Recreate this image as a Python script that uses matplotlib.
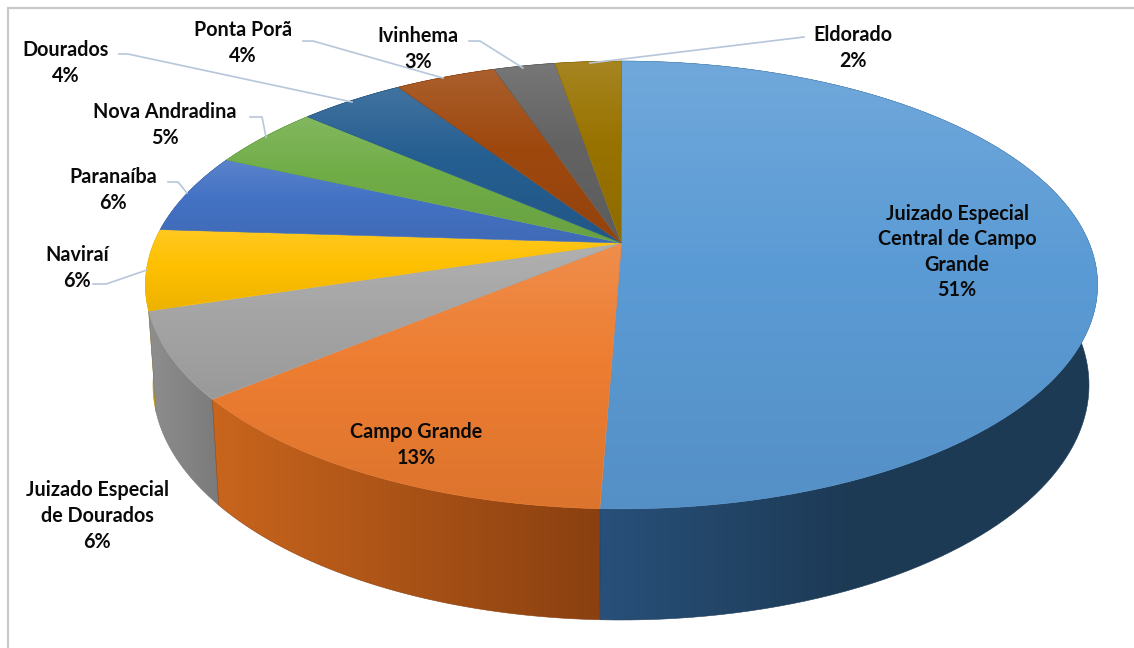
import numpy as np
import matplotlib
matplotlib.use('Agg')
from matplotlib import pyplot as plt
from matplotlib.colors import LinearSegmentedColormap, to_rgb
from matplotlib.patches import Polygon

plt.rcParams['font.family'] = ['Lato', 'DejaVu Sans']

# slices, clockwise from 12 o'clock
names = ['Juizado Especial\nCentral de Campo\nGrande', 'Campo Grande', 'Juizado Especial\nde Dourados',
         'Naviraí', 'Paranaíba', 'Nova Andradina', 'Dourados', 'Ponta Porã', 'Ivinhema', 'Eldorado']
values = [50.6, 13.4, 6.2, 5.8, 5.8, 4.6, 4.3, 4.1, 2.5, 2.7]
pct_labels = ['51%', '13%', '6%', '6%', '6%', '5%', '4%', '4%', '3%', '2%']

colors = ['#5B9BD5', '#ED7D31', '#A5A5A5', '#FFC000', '#4472C4', '#70AD47', '#255E91', '#9E480E', '#636363', '#997300']
wall_left = ['#28507a', '#c9651d', '#8e8e8e', '#b8950f', '#3a5a90', '#50803a', '#1a4468', '#70330a', '#474747', '#6d5200']
wall_right = ['#1d3a55', '#8a4010', '#7a7a7a', '#b8950f', '#2a4478', '#3c6028', '#123050', '#501f06', '#333333', '#4d3a00']

# label centres in pixels, and leader lines
label_pos = [(957, 252), (416, 445), (97, 516), (77, 268), (113, 190), (165, 125), (66, 63), (243, 43), (418, 49), (853, 48)]
leaders = [None, None, None,
           [(93, 284), (106, 284), (147, 270)],
           [(168, 182), (178, 182), (187, 193)],
           [(250, 117), (262, 117), (266, 137)],
           [(119, 54), (128, 54), (352, 102)],
           [(303, 41), (313, 41), (443, 78)],
           [(469, 41), (480, 41), (523, 68)],
           [(804, 37), (590, 63)]]

W, H = 1134, 648
apex = (621.5, 243)
A, B, k = 467.6, 216.0, 0.1875
top_c, top_r = (621.0, 285.0), (476.0, 224.0)
low_c, low_r = (621.0, 385.0), (468.0, 235.0)


def rim_top(th):
    d = 1 + k * np.cos(th)
    return apex[0] + A * np.sin(th) / d, apex[1] - B * np.cos(th) / d


def rim_low(th):
    # same ellipse parameter as the top rim, on the lower ellipse
    x, y = rim_top(th)
    t = np.arctan2((x - top_c[0]) / top_r[0], (top_c[1] - y) / top_r[1])
    return low_c[0] + low_r[0] * np.sin(t), low_c[1] - low_r[1] * np.cos(t)


def mix(c, other, f):
    c, other = np.array(to_rgb(c)), np.array(to_rgb(other))
    return tuple(c * (1 - f) + other * f)


def fill_gradient(ax, pts, cols, horizontal=False, stops=None, zorder=2):
    pts = np.array(pts)
    poly = Polygon(pts, closed=True, facecolor='none', edgecolor='none', transform=ax.transData)
    ax.add_patch(poly)
    x0, y0 = pts.min(axis=0)
    x1, y1 = pts.max(axis=0)
    cmap = LinearSegmentedColormap.from_list('g', list(zip(stops, cols)) if stops else cols)
    g = np.linspace(0, 1, 256)
    g = g[None, :] if horizontal else g[:, None]
    im = ax.imshow(g, cmap=cmap, extent=(x0, x1, y1, y0), aspect='auto', zorder=zorder, interpolation='bilinear')
    im.set_clip_path(poly)
    # thin edge to soften the clip
    ax.add_patch(Polygon(pts, closed=True, facecolor='none', edgecolor=cols[len(cols) // 2], lw=0.4, zorder=zorder))


fig = plt.figure(figsize=(W / 100, H / 100), dpi=100)
ax = fig.add_axes([0, 0, 1, 1])

edges = np.cumsum([0] + values) / sum(values) * 2 * np.pi
arcs = [np.linspace(edges[i], edges[i + 1], 120) for i in range(len(values))]

# walls, back to front
order = sorted(range(len(values)), key=lambda i: rim_low(arcs[i])[1].max())
for n, i in enumerate(order):
    tx, ty = rim_top(arcs[i])
    lx, ly = rim_low(arcs[i])
    pts = np.column_stack([np.r_[tx, lx[::-1]], np.r_[ty, ly[::-1]]])
    left, right = wall_left[i], wall_right[i]
    if i == 0:
        fill_gradient(ax, pts, [left, right, right], horizontal=True, stops=[0, 0.5, 1], zorder=2 + n * 0.01)
    else:
        fill_gradient(ax, pts, [left, right], horizontal=True, zorder=2 + n * 0.01)

# top face, each slice shaded over its own height
for i in range(len(values)):
    tx, ty = rim_top(arcs[i])
    pts = np.column_stack([np.r_[apex[0], tx], np.r_[apex[1], ty]])
    base = colors[i]
    fill_gradient(ax, pts, [mix(base, '#ffffff', 0.13), base, mix(base, '#000000', 0.07)],
                  stops=[0, 0.45, 1], zorder=3 + i * 0.01)

# leader lines under the text
for line in leaders:
    if line:
        xs, ys = zip(*line)
        ax.plot(xs, ys, color='#b7c6da', lw=1.2, zorder=4, solid_joinstyle='round')

for name, pct, (x, y) in zip(names, pct_labels, label_pos):
    ax.text(x, y, name + '\n' + pct, ha='center', va='center', fontsize=14.2, fontweight='bold',
            color='#0a0a0a', linespacing=1.35, zorder=5)

# chart frame, only left and top show in the crop
ax.plot([8, 8, W], [H, 8, 8], color='#c9c9c9', lw=1.6, zorder=1, solid_joinstyle='miter')

ax.set_xlim(0, W)
ax.set_ylim(H, 0)
ax.axis('off')
fig.savefig('out.png', dpi=100, facecolor='white')
